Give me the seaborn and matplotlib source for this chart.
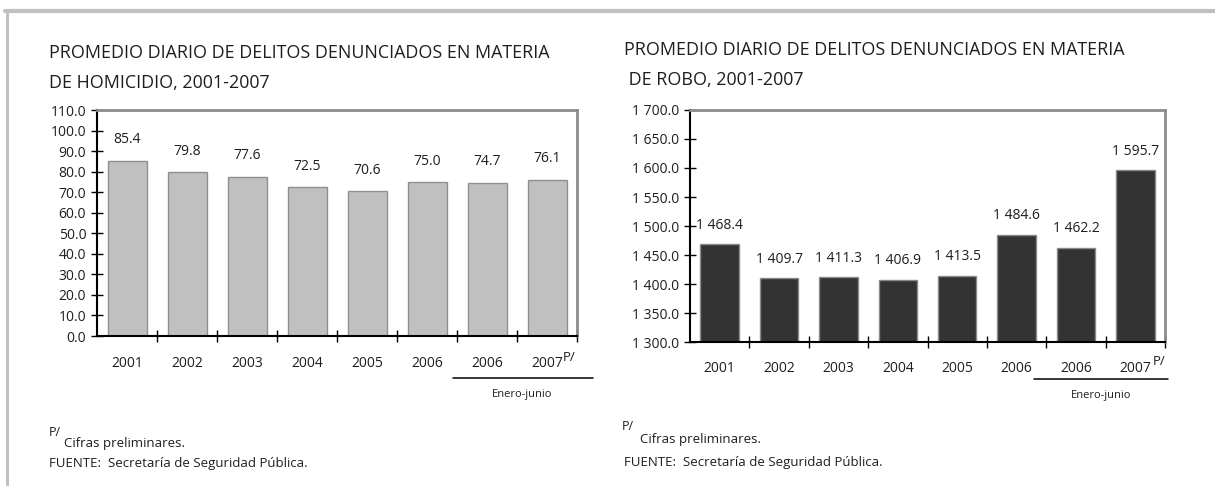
import matplotlib
matplotlib.use("Agg")
import matplotlib.pyplot as plt
from matplotlib.lines import Line2D
from matplotlib.ticker import FixedLocator, FuncFormatter
import seaborn as sns
import pandas as pd

# ---- data ----
periods = ["2001", "2002", "2003", "2004", "2005", "2006", "2006 EJ", "2007 EJ"]
tick_labels = ["2001", "2002", "2003", "2004", "2005", "2006", "2006", "2007"]
homicidio = [85.4, 79.8, 77.6, 72.5, 70.6, 75.0, 74.7, 76.1]
robo = [1468.4, 1409.7, 1411.3, 1406.9, 1413.5, 1484.6, 1462.2, 1595.7]
hom_ticks = [0, 10, 20, 30, 40, 50, 60, 70, 80, 90, 100, 110]
robo_ticks = [1300, 1350, 1400, 1450, 1500, 1550, 1600, 1650, 1700]

title_l = ["PROMEDIO DIARIO DE DELITOS DENUNCIADOS EN MATERIA", "DE HOMICIDIO, 2001-2007"]
title_r = ["PROMEDIO DIARIO DE DELITOS DENUNCIADOS EN MATERIA", " DE ROBO, 2001-2007"]

sns.set_style("white")
plt.rcParams["font.family"] = ["Open Sans", "DejaVu Sans"]

W, H = 1215, 486
fig = plt.figure(figsize=(W / 100, H / 100), dpi=100)
TXT = "#1e1e1e"


def fx(x):
    return x / W


def fy(y):
    return 1 - y / H


def sp(n):
    return f"{n:,.1f}".replace(",", " ")


# outer grey frame
fig.add_artist(Line2D([fx(5), fx(1215)], [fy(11), fy(11)], color="#c0c0c0", lw=3, transform=fig.transFigure))
fig.add_artist(Line2D([fx(6.5), fx(6.5)], [fy(11), fy(486)], color="#c0c0c0", lw=2.2, transform=fig.transFigure))


def make_panel(rect, values, ticks, fmt, bar_color, edge_color, ylim, labelpad_pts, xpad):
    ax = fig.add_axes(rect)
    df = pd.DataFrame({"periodo": periods, "valor": values})
    sns.barplot(data=df, x="periodo", y="valor", order=periods, color=bar_color,
                edgecolor=edge_color, linewidth=1.0, width=0.65, saturation=1, ax=ax)
    ax.set_xlim(-0.5, len(periods) - 0.5)
    ax.set_ylim(*ylim)
    ax.set_xlabel("")
    ax.set_ylabel("")
    ax.yaxis.set_major_locator(FixedLocator(ticks))
    ax.yaxis.set_major_formatter(FuncFormatter(lambda v, p: fmt(v)))
    ax.set_xticks(range(len(periods)))
    ax.set_xticklabels(tick_labels)
    ax.xaxis.set_minor_locator(FixedLocator([i + 0.5 for i in range(len(periods))]))
    ax.tick_params(axis="x", which="major", length=0, pad=xpad, labelsize=10, labelcolor=TXT)
    ax.tick_params(axis="x", which="minor", direction="inout", length=8.5, width=1, color="black", bottom=True)
    ax.tick_params(axis="y", which="major", direction="inout", length=8.5, width=1, color="black",
                   pad=3.5, labelsize=10, labelcolor=TXT, left=True)
    for s in ["left", "bottom"]:
        ax.spines[s].set_color("black")
        ax.spines[s].set_linewidth(1.5)
        ax.spines[s].set_visible(True)
    for s in ["top", "right"]:
        ax.spines[s].set_color("#8c8c8c")
        ax.spines[s].set_linewidth(2)
        ax.spines[s].set_visible(True)
    ax.bar_label(ax.containers[0], labels=[fmt(v) for v in values], padding=labelpad_pts,
                 fontsize=10, color=TXT)
    return ax


axL = make_panel([fx(97), fy(336), fx(577) - fx(97), fy(110) - fy(336)], homicidio, hom_ticks,
                 lambda v: f"{v:.1f}", "#c0c0c0", "#8f8f8f", (0, 110), 9.5, 14.5)
axR = make_panel([fx(690), fy(342), fx(1165) - fx(690), fy(110) - fy(342)], robo, robo_ticks,
                 sp, "#333333", "#8a8a8a", (1300, 1700), 8.5, 13.5)

# titles
for i, t in enumerate(title_l):
    fig.text(fx(49), fy(53 + 30 * i), t, fontsize=12.9, va="center", ha="left", color=TXT)
for i, t in enumerate(title_r):
    fig.text(fx(624), fy(50 + 30 * i), t, fontsize=12.9, va="center", ha="left", color=TXT)

# P/ markers, underline and Enero-junio
for ax, px_p, py_p, x0, x1, yl, xe, ye in [
    (axL, 563, 357, 453, 593, 378, 522, 394),
    (axR, 1153, 361, 1034, 1168, 379, 1101, 395),
]:
    fig.text(fx(px_p), fy(py_p), "P/", fontsize=9.5, ha="left", va="center", color=TXT)
    fig.add_artist(Line2D([fx(x0), fx(x1)], [fy(yl), fy(yl)], color="black", lw=1.1, transform=fig.transFigure))
    fig.text(fx(xe), fy(ye), "Enero-junio", fontsize=8, ha="center", va="center", color=TXT)

# footnotes
for xp, yp, xc, yc, xf, yfu in [(49, 432, 64, 443, 49, 463), (622, 426, 640, 439, 624, 462)]:
    fig.text(fx(xp), fy(yp), "P/", fontsize=9, ha="left", va="center", color=TXT)
    fig.text(fx(xc), fy(yc), "Cifras preliminares.", fontsize=9.5, ha="left", va="center", color=TXT)
    fig.text(fx(xf), fy(yfu), "FUENTE:  Secretaría de Seguridad Pública.", fontsize=9.5, ha="left",
             va="center", color=TXT)

fig.savefig("out.png", dpi=100)
